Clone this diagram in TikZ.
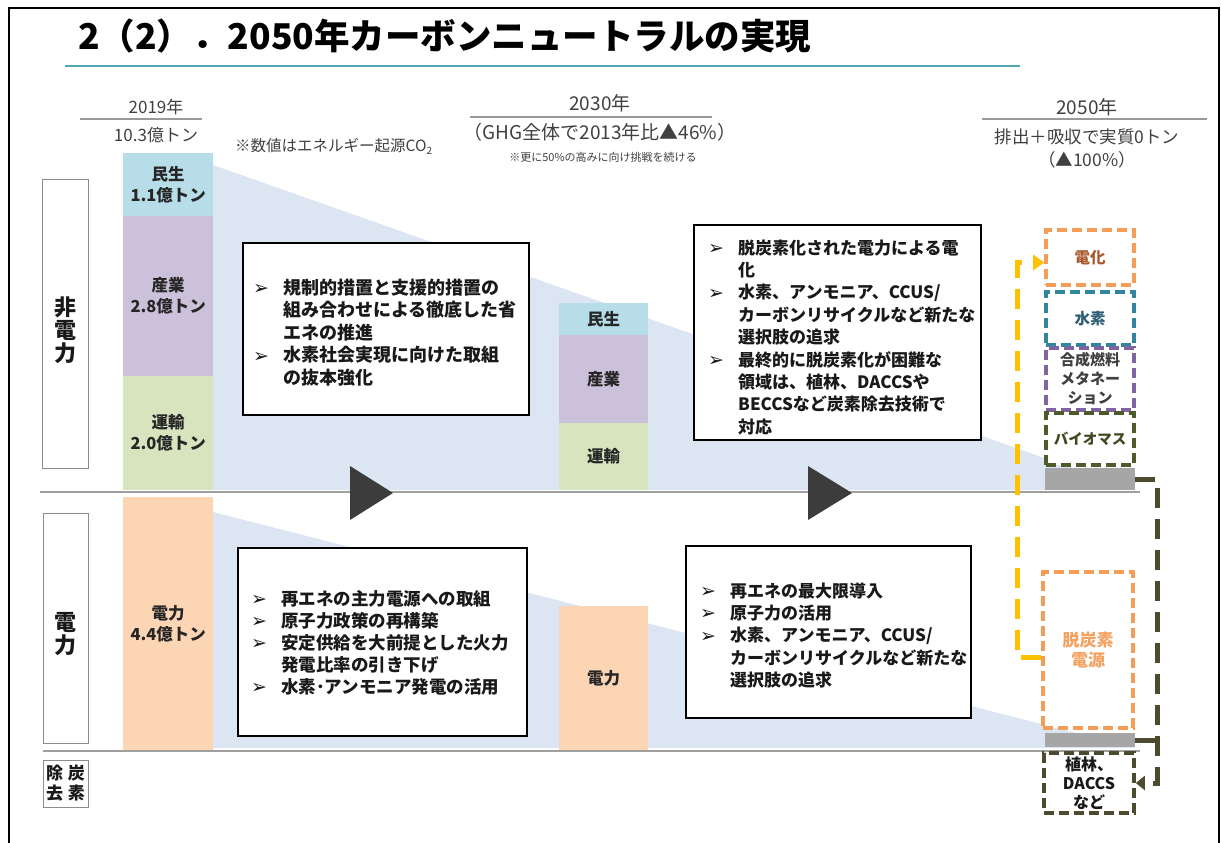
\documentclass[tikz,border=0pt]{standalone}
\usepackage{fontspec}
\setmainfont{Noto Sans CJK JP}
\newfontfamily\dvfont{DejaVu Sans}
\usetikzlibrary{arrows.meta}
\definecolor{hdrgray}{HTML}{404040}
\definecolor{teal1}{HTML}{4FA7B3}
\definecolor{wedge}{HTML}{DCE6F2}
\definecolor{cmin}{HTML}{B7DEE8}
\definecolor{csan}{HTML}{CCC1DA}
\definecolor{cun}{HTML}{D7E4BD}
\definecolor{cden}{HTML}{FCD5B5}
\definecolor{tri}{HTML}{3C3C3C}
\definecolor{corange}{HTML}{F59D56}
\definecolor{cteal}{HTML}{31859C}
\definecolor{cpurple}{HTML}{8064A2}
\definecolor{colive}{HTML}{4F5A28}
\definecolor{cdark}{HTML}{4D4B2E}
\definecolor{cyellow}{HTML}{FFC000}
\definecolor{cgraybar}{HTML}{A6A6A6}
\definecolor{tdenka}{HTML}{A9582C}
\definecolor{tsuiso}{HTML}{2E5E74}
\definecolor{tdatsu}{HTML}{F4A261}
\newcommand{\bul}{\makebox[30pt][l]{\dvfont\fontsize{19}{19}\selectfont\raisebox{-0.5pt}{➢}}}
\newcommand{\ind}{\hspace*{30pt}}
\begin{document}
\begin{tikzpicture}[x=1pt,y=-1pt,
  hdr/.style={font=\fontsize{17}{20}\selectfont, text=hdrgray, inner sep=0},
  hdrline/.style={draw=gray!80, line width=1.3},
  bar/.style={inner sep=0, anchor=north west, font=\bfseries\fontsize{16.5}{21}\selectfont, align=center, text=black!85},
  txtbox/.style={draw=black, line width=1.6, fill=white, inner sep=0, anchor=north west},
  bultext/.style={font=\bfseries\fontsize{17}{22.4}\selectfont, text width=285, align=left, inner sep=0, anchor=base west, text=black!90},
  lblbox/.style={draw=gray!90, line width=1.1, fill=white, inner sep=0, anchor=north west},
  lbltext/.style={font=\bfseries\fontsize{22}{23}\selectfont, align=center, inner sep=0, text=black!90},
  dbox/.style={line width=3.6, dash pattern=on 10 off 5, fill=white, minimum width=88, inner sep=0, font=\bfseries\fontsize{15.5}{19}\selectfont, align=center},
  graybar/.style={fill=cgraybar, minimum width=90, inner sep=0},
  yconn/.style={draw=cyellow, line width=5, dash pattern=on 20 off 11, -{Triangle[length=11pt,width=15pt]}},
  oconn/.style={draw=cdark, line width=5, dash pattern=on 20 off 11},
  sepline/.style={draw=gray!75, line width=1.2}
]
\useasboundingbox (0,0) rectangle (1221,843);
% frame
\draw[line width=2] (9,843) -- (9,8) -- (1219,8) -- (1219,843);
% title
\node[anchor=west, inner sep=0, font=\bfseries\fontsize{35.5}{40}\selectfont] (title) at (78,36) {2（2）．2050年カーボンニュートラルの実現};
\draw[teal1, line width=2.5] (65,66) -- (1020,66);

% headers
\node[hdr] (h19) at (156,107) {2019年};
\draw[hdrline] (80,119) -- (202,119);
\node[hdr] (h19b) at (156,135) {10.3億トン};
\node[hdr, anchor=west, font=\fontsize{15.5}{18}\selectfont] (note19) at (235,146) {※数値はエネルギー起源CO{\fontsize{10}{10}\selectfont\raisebox{-3pt}{2}}};
\node[hdr, font=\fontsize{19}{22}\selectfont] (h30) at (600,103) {2030年};
\draw[hdrline] (470,117) -- (712,117);
\node[hdr, font=\fontsize{19}{22}\selectfont] (h30b) at (600,132) {（GHG全体で2013年比▲46\%）};
\node[hdr, font=\fontsize{11}{13}\selectfont] (h30c) at (603,157) {※更に50\%の高みに向け挑戦を続ける};
\node[hdr, font=\fontsize{19}{22}\selectfont] (h50) at (1087,107) {2050年};
\draw[hdrline] (982,119) -- (1207,119);
\node[hdr, font=\fontsize{17.5}{20}\selectfont] (h50b) at (1087,137) {排出＋吸収で実質0トン};
\node[hdr, font=\fontsize{17.5}{20}\selectfont] (h50c) at (1087,160) {（▲100\%）};

% wedges
\fill[wedge] (213,165) -- (1135,490) -- (213,490) -- cycle;
\fill[wedge] (213,512) -- (1135,748) -- (213,748) -- cycle;

% separators
\draw[sepline] (40,492) -- (1140,492);
\draw[sepline] (43,751) -- (1140,751);

% left labels
\node[lblbox, minimum width=46, minimum height=289] (nonel) at (42,179) {};
\node[lbltext] (nonelt) at (65,330) {非\\電\\力};
\node[lblbox, minimum width=45, minimum height=230] (elec) at (43,513) {};
\node[lbltext] (elect) at (65.5,634) {電\\力};
\node[lblbox, minimum width=45, minimum height=47] (rem) at (43,760) {};
\node[lbltext, font=\bfseries\fontsize{17}{20}\selectfont] (remt) at (65.5,783) {除\hspace{5pt}炭\\去\hspace{5pt}素};

% 2019 bars
\node[bar, fill=cmin, minimum width=90, minimum height=63] (min19) at (123,153) {民生\\1.1億トン};
\node[bar, fill=csan, minimum width=90, minimum height=160] (san19) at (123,216) {産業\\2.8億トン};
\node[bar, fill=cun, minimum width=90, minimum height=114] (un19) at (123,376) {運輸\\2.0億トン};
\node[bar, fill=cden, minimum width=90, minimum height=253] (den19) at (123,497) {電力\\4.4億トン};

% 2030 bars
\node[bar, fill=cmin, minimum width=89, minimum height=32] (min30) at (559,303) {民生};
\node[bar, fill=csan, minimum width=89, minimum height=88] (san30) at (559,335) {産業};
\node[bar, fill=cun, minimum width=89, minimum height=67] (un30) at (559,423) {運輸};
\node[bar, fill=cden, minimum width=89, minimum height=144] (den30) at (559,606) {電力};

% triangles
\fill[tri] (350,466) -- (393,493) -- (350,520) -- cycle;
\fill[tri] (808,466) -- (852,493) -- (808,520) -- cycle;

% text boxes
\node[txtbox, minimum width=286, minimum height=172] (b1) at (242,242) {};
\node[bultext, font=\bfseries\fontsize{18}{22.5}\selectfont] (b1t) at (253,294) {\bul 規制的措置と支援的措置の\\\ind 組み合わせによる徹底した省\\\ind エネの推進\\\bul 水素社会実現に向けた取組\\\ind の抜本強化};
\node[txtbox, minimum width=287, minimum height=215] (b2) at (693,224) {};
\node[bultext] (b2t) at (708,254) {\bul 脱炭素化された電力による電\\\ind 化\\\bul 水素、アンモニア、CCUS/\\\ind カーボンリサイクルなど新たな\\\ind 選択肢の追求\\\bul 最終的に脱炭素化が困難な\\\ind 領域は、植林、DACCSや\\\ind BECCSなど炭素除去技術で\\\ind 対応};
\node[txtbox, minimum width=289, minimum height=188] (b3) at (237,547) {};
\node[bultext, font=\bfseries\fontsize{17.5}{22}\selectfont] (b3t) at (251,605) {\bul 再エネの主力電源への取組\\\bul 原子力政策の再構築\\\bul 安定供給を大前提とした火力\\\ind 発電比率の引き下げ\\\bul 水素･アンモニア発電の活用};
\node[txtbox, minimum width=285, minimum height=172] (b4) at (685,545) {};
\node[bultext] (b4t) at (700,597) {\bul 再エネの最大限導入\\\bul 原子力の活用\\\bul 水素、アンモニア、CCUS/\\\ind カーボンリサイクルなど新たな\\\ind 選択肢の追求};

% 2050 column
\node[dbox, draw=corange, minimum height=55, text=tdenka] (denka) at (1090,257.5) {電化};
\node[dbox, draw=cteal, minimum height=53, text=tsuiso] (suiso) at (1090,318.5) {水素};
\node[dbox, draw=cpurple, minimum height=62, text=hdrgray, font=\bfseries\fontsize{15}{19}\selectfont] (gosei) at (1090,379) {合成燃料\\メタネー\\ション};
\node[dbox, draw=colive, minimum height=52, text=colive!80!black, font=\bfseries\fontsize{14.5}{19}\selectfont] (bio) at (1090,439) {バイオマス};
\node[graybar, minimum height=22] (gray1) at (1090,479) {};
\node[dbox, draw=corange, minimum width=90, minimum height=156, text=tdatsu, font=\bfseries\fontsize{17}{20}\selectfont] (datsu) at (1088,650) {脱炭素\\電源};
\node[graybar, minimum height=14] (gray2) at (1090,740) {};
\node[dbox, draw=cdark, minimum width=90, minimum height=60, text=black!90, font=\bfseries\fontsize{16}{19}\selectfont] (shoku) at (1089,783) {植林、\\DACCS\\など};

% connectors
\draw[yconn] ([yshift=-7pt]datsu.west) -- ++(-24,0) |- ([yshift=-5pt]denka.west);
\draw[oconn, -{Triangle[length=9pt,width=14pt]}] (gray1.east) -- ++(22,0) |- (shoku.east);
\draw[oconn] (gray2.east) -- ++(22,0);
\end{tikzpicture}
\end{document}
